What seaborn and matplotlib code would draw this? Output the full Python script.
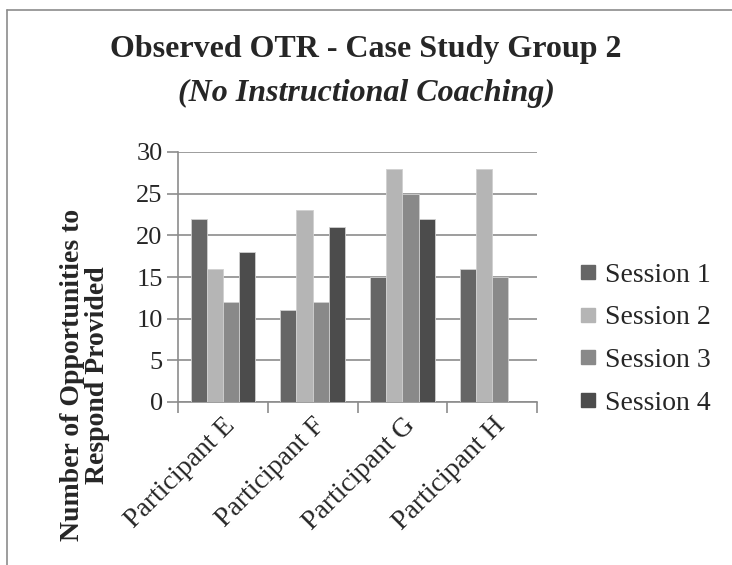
import pandas as pd
import numpy as np
import matplotlib
matplotlib.use("Agg")
import matplotlib.pyplot as plt
import seaborn as sns
from matplotlib.lines import Line2D

sns.set_style("white")
plt.rcParams['font.family'] = ['Liberation Serif', 'DejaVu Serif']

participants = ["Participant E", "Participant F", "Participant G", "Participant H"]
sessions = ["Session 1", "Session 2", "Session 3", "Session 4"]
session1 = [22, 11, 15, 16]
session2 = [16, 23, 28, 28]
session3 = [12, 12, 25, 15]
session4 = [18, 21, 22, 0]

palette = {"Session 1": "#666666", "Session 2": "#b5b5b5",
           "Session 3": "#898989", "Session 4": "#4c4c4c"}

df = pd.DataFrame({
    "participant": participants * 4,
    "session": [s for s in sessions for _ in participants],
    "otr": session1 + session2 + session3 + session4,
})

fig = plt.figure(figsize=(7.32, 5.65), dpi=100)
fig.patch.set_facecolor("white")
ax = fig.add_axes([178 / 732, 1 - 402 / 565, 359 / 732, 250 / 565])

sns.barplot(data=df, x="participant", y="otr", hue="session", order=participants,
            hue_order=sessions, palette=palette, width=0.72, gap=0,
            edgecolor="#d0d0d0", linewidth=0.6, saturation=1, ax=ax, legend=False, zorder=3)

ax.set_ylim(0, 30)
ax.set_xlim(-0.5, 3.5)
ax.set_yticks(range(0, 31, 5))
ax.yaxis.grid(True, color="#8c8c8c", linewidth=1.2, zorder=0)
ax.set_axisbelow(True)
for side in ["top", "right"]:
    ax.spines[side].set_visible(False)
for side in ["left", "bottom"]:
    ax.spines[side].set_color("#8c8c8c")
    ax.spines[side].set_linewidth(1.2)

ax.tick_params(axis="y", which="major", length=8, width=1.2, color="#8c8c8c",
               labelsize=19, pad=3, left=True)
ax.set_xticks(np.arange(len(participants)))
ax.set_xticklabels(participants, rotation=45, ha="right", rotation_mode="anchor", fontsize=20)
ax.tick_params(axis="x", which="major", length=0, pad=8)
ax.set_xticks(np.arange(-0.5, 4, 1), minor=True)
ax.tick_params(axis="x", which="minor", length=8, width=1.2, color="#8c8c8c", bottom=True)
ax.set_xlabel("")
ax.set_ylabel("")

fig.text(0.5, 1 - 49 / 565, "Observed OTR - Case Study Group 2", ha="center", va="center",
         fontsize=23, fontweight="bold")
fig.text(0.5, 1 - 93 / 565, "(No Instructional Coaching)", ha="center", va="center",
         fontsize=23, fontweight="bold", style="italic")

fig.text(85 / 732, 1 - 375 / 565, "Number of Opportunities to\nRespond Provided",
         ha="center", va="center", rotation=90, fontsize=20, fontweight="bold", linespacing=1.0)

handles = [Line2D([0], [0], marker="s", linestyle="", markersize=10,
                  markerfacecolor=palette[s], markeredgecolor=palette[s]) for s in sessions]
fig.legend(handles, sessions, loc="center left", bbox_to_anchor=(549 / 732, 1 - 339 / 565),
           frameon=False, fontsize=20, handletextpad=0.1, labelspacing=0.62, handlelength=1.0)

# chart border (left and top edges visible in the crop)
fig.add_artist(Line2D([7 / 732, 7 / 732], [0, 1 - 10 / 565], transform=fig.transFigure,
                      color="#8c8c8c", linewidth=1.2))
fig.add_artist(Line2D([7 / 732, 1], [1 - 10 / 565, 1 - 10 / 565], transform=fig.transFigure,
                      color="#8c8c8c", linewidth=1.2))

fig.savefig("out.png", dpi=100, facecolor="white")
